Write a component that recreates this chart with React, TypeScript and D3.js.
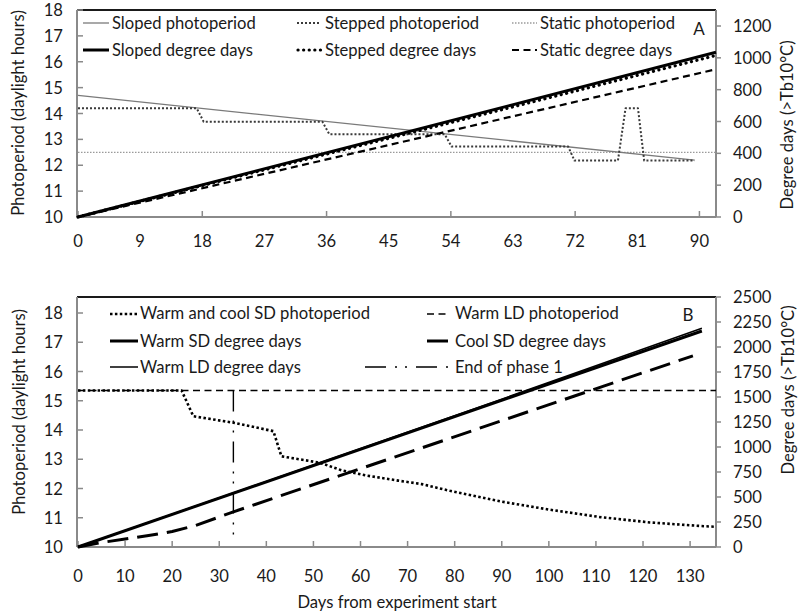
import React from 'react';
import * as d3 from 'd3';

const FONT = "Lato, 'DejaVu Sans', sans-serif";
const FS = 16.6;

// ---------------- Panel A data ----------------
const aXLabels = [0, 9, 18, 27, 36, 45, 54, 63, 72, 81, 90];
const aXTickMarks = [0, 18, 36, 54, 72, 90];
const aLeftTicks = [10, 11, 12, 13, 14, 15, 16, 17, 18];
const aRightTicks = [0, 200, 400, 600, 800, 1000, 1200];

const slopedPhotoDays = [0, 89.3];
const slopedPhotoHours = [14.7, 12.2];
const steppedPhotoDays = [0, 17.2, 18.2, 35.4, 36.4, 53.1, 54.1, 71.0, 71.9, 78.2, 79.3, 81.1, 82.0, 89.3];
const steppedPhotoHours = [14.2, 14.2, 13.68, 13.68, 13.2, 13.2, 12.72, 12.72, 12.18, 12.18, 14.2, 14.2, 12.18, 12.18];
const staticPhotoDays = [0, 92.4];
const staticPhotoHours = [12.5, 12.5];
const slopedDDDays = [0, 92.4];
const slopedDD = [0, 1035];
const steppedDDDays = [0, 92.4];
const steppedDD = [0, 1015];
const staticDDDays = [0, 92.4];
const staticDD = [0, 928];

// ---------------- Panel B data ----------------
const bXLabels = [0, 10, 20, 30, 40, 50, 60, 70, 80, 90, 100, 110, 120, 130];
const bLeftTicks = [10, 11, 12, 13, 14, 15, 16, 17, 18];
const bRightTicks = [0, 250, 500, 750, 1000, 1250, 1500, 1750, 2000, 2250, 2500];

const sdPhotoDays = [0, 22, 24.5, 33, 41.5, 43.2, 47, 51.4, 56, 61, 68, 73, 79, 90, 100, 111, 121.5, 132, 135.5];
const sdPhotoHours = [15.35, 15.35, 14.47, 14.25, 13.96, 13.1, 13.0, 12.88, 12.62, 12.45, 12.27, 12.15, 11.92, 11.55, 11.28, 11.02, 10.84, 10.72, 10.69];
const ldPhotoDays = [0, 135.5];
const ldPhotoHours = [15.35, 15.35];
const warmSDDays = [0, 132.5];
const warmSDDD = [0, 2160];
const warmLDDays = [0, 80, 132.5];
const warmLDDD = [0, 1312, 2188];
const coolSDDays = [0, 5, 10, 15, 20, 25, 30, 33, 130.6];
const coolSDDD = [0, 45, 80, 115, 155, 215, 300, 352, 1912];
const endPhaseDays = [33, 33];
const endPhaseHours = [15.35, 10.2];

type Style = { stroke: string; width: number; dash?: string; cap?: string };

const stSlopedPhoto: Style = { stroke: '#7a7a7a', width: 1.3 };
const stSteppedPhoto: Style = { stroke: '#3a3a3a', width: 2, dash: '2 2' };
const stStaticPhoto: Style = { stroke: '#9a9a9a', width: 1.3, dash: '1.5 1.5' };
const stSlopedDD: Style = { stroke: '#000', width: 3 };
const stSteppedDD: Style = { stroke: '#000', width: 3.2, dash: '0.1 5.5', cap: 'round' };
const stStaticDD: Style = { stroke: '#000', width: 2.2, dash: '7 4.5' };

const stSdPhoto: Style = { stroke: '#000', width: 2.6, dash: '2.5 2.4' };
const stLdPhoto: Style = { stroke: '#000', width: 1.5, dash: '7 4.5' };
const stWarmSD: Style = { stroke: '#000', width: 3 };
const stWarmLD: Style = { stroke: '#000', width: 1.5 };
const stCoolSD: Style = { stroke: '#000', width: 3, dash: '21 9' };
const stEndPhase: Style = { stroke: '#000', width: 1.4, dash: '21 9 2 8 2 9' };

const AXIS = '#8a8a8a';

function pairs(days: number[], vals: number[]): [number, number][] {
  return days.map((d, i) => [d, vals[i]] as [number, number]);
}

function Path({ d, s }: { d: string | null; s: Style }) {
  return (
    <path
      d={d || ''}
      fill="none"
      stroke={s.stroke}
      strokeWidth={s.width}
      strokeDasharray={s.dash}
      strokeLinecap={(s.cap as any) || 'butt'}
      strokeLinejoin="round"
    />
  );
}

function LegendItem({ x1, x2, y, tx, ty, s, label }: any) {
  return (
    <g>
      <line x1={x1} x2={x2} y1={y} y2={y} stroke={s.stroke} strokeWidth={s.width} strokeDasharray={s.dash} strokeLinecap={s.cap || 'butt'} />
      <text x={tx} y={ty} fontSize={FS} fontFamily={FONT} fill="#1a1a1a">{label}</text>
    </g>
  );
}

function Frame({ left, right, top, bottom, x, yL, yR, xLabels, xTicks, leftTicks, rightTicks, labelY }: any) {
  return (
    <g>
      <line x1={left} x2={right} y1={top} y2={top} stroke="#1a1a1a" strokeWidth={2} />
      <line x1={left} x2={left} y1={top} y2={bottom} stroke={AXIS} strokeWidth={2} />
      <line x1={right} x2={right} y1={top} y2={bottom} stroke={AXIS} strokeWidth={2} />
      <line x1={left} x2={right} y1={bottom} y2={bottom} stroke={AXIS} strokeWidth={2} />
      {leftTicks.map((t: number) => (
        <g key={'l' + t}>
          <line x1={left} x2={left + 6} y1={yL(t)} y2={yL(t)} stroke={AXIS} strokeWidth={1.5} />
          <text x={63} y={yL(t)} textAnchor="end" dominantBaseline="central" fontSize={FS} fontFamily={FONT} fill="#1a1a1a">{t}</text>
        </g>
      ))}
      {rightTicks.map((t: number) => (
        <g key={'r' + t}>
          <line x1={right} x2={right + 5} y1={yR(t)} y2={yR(t)} stroke={AXIS} strokeWidth={1.5} />
          <text x={733} y={yR(t)} textAnchor="start" dominantBaseline="central" fontSize={FS} fontFamily={FONT} fill="#1a1a1a">{t}</text>
        </g>
      ))}
      {xTicks.map((t: number) => (
        <line key={'xt' + t} x1={x(t)} x2={x(t)} y1={bottom} y2={bottom - 6} stroke={AXIS} strokeWidth={1.5} />
      ))}
      {xLabels.map((t: number) => (
        <text key={'xl' + t} x={x(t)} y={labelY} textAnchor="middle" fontSize={FS} fontFamily={FONT} fill="#1a1a1a">{t}</text>
      ))}
    </g>
  );
}

export default function App() {
  const left = 77, right = 716;
  // Panel A scales
  const aTop = 10, aBottom = 217;
  const xA = d3.scaleLinear().domain([0, 92.4]).range([78, right]);
  const yAL = d3.scaleLinear().domain([10, 18]).range([aBottom, 10]);
  const yAR = d3.scaleLinear().domain([0, 1200]).range([aBottom, 26]);
  const lineAL = d3.line<[number, number]>().x(d => xA(d[0])).y(d => yAL(d[1]));
  const lineAR = d3.line<[number, number]>().x(d => xA(d[0])).y(d => yAR(d[1]));

  // Panel B scales
  const bTop = 297, bBottom = 547;
  const xB = d3.scaleLinear().domain([0, 135.5]).range([78, right]);
  const yBL = d3.scaleLinear().domain([10, 18]).range([bBottom, 313]);
  const yBR = d3.scaleLinear().domain([0, 2500]).range([bBottom, bTop]);
  const lineBL = d3.line<[number, number]>().x(d => xB(d[0])).y(d => yBL(d[1]));
  const lineBR = d3.line<[number, number]>().x(d => xB(d[0])).y(d => yBR(d[1]));

  return (
    <svg width={800} height={615} style={{ position: 'absolute', left: 0, top: 0, background: '#fff' }}>
      <rect x={0} y={0} width={800} height={615} fill="#fff" />
      {/* ---------- Panel A ---------- */}
      <Frame left={left} right={right} top={aTop} bottom={aBottom} x={xA} yL={yAL} yR={yAR}
        xLabels={aXLabels} xTicks={aXTickMarks} leftTicks={aLeftTicks} rightTicks={aRightTicks} labelY={247} />
      <Path d={lineAL(pairs(staticPhotoDays, staticPhotoHours))} s={stStaticPhoto} />
      <Path d={lineAL(pairs(slopedPhotoDays, slopedPhotoHours))} s={stSlopedPhoto} />
      <Path d={lineAL(pairs(steppedPhotoDays, steppedPhotoHours))} s={stSteppedPhoto} />
      <Path d={lineAR(pairs(staticDDDays, staticDD))} s={stStaticDD} />
      <Path d={lineAR(pairs(steppedDDDays, steppedDD))} s={stSteppedDD} />
      <Path d={lineAR(pairs(slopedDDDays, slopedDD))} s={stSlopedDD} />

      <LegendItem x1={83} x2={109} y={23} tx={112} ty={29} s={stSlopedPhoto} label="Sloped photoperiod" />
      <LegendItem x1={297} x2={321} y={23} tx={325} ty={29} s={stSteppedPhoto} label="Stepped photoperiod" />
      <LegendItem x1={512} x2={537} y={23} tx={540} ty={29} s={stStaticPhoto} label="Static photoperiod" />
      <LegendItem x1={83} x2={109} y={50} tx={112} ty={56} s={stSlopedDD} label="Sloped degree days" />
      <LegendItem x1={298} x2={321} y={50} tx={325} ty={56} s={stSteppedDD} label="Stepped degree days" />
      <LegendItem x1={512} x2={537} y={50} tx={540} ty={56} s={stStaticDD} label="Static degree days" />
      <text x={699} y={35} textAnchor="middle" fontSize={17} fontFamily={FONT} fill="#1a1a1a">A</text>

      <text transform="translate(18,113) rotate(-90)" textAnchor="middle" dominantBaseline="central" fontSize={FS} fontFamily={FONT} fill="#1a1a1a">Photoperiod (daylight hours)</text>
      <text transform="translate(787,125) rotate(-90)" textAnchor="middle" dominantBaseline="central" fontSize={FS} fontFamily={FONT} fill="#1a1a1a">Degree days (&gt;Tb10°C)</text>

      {/* ---------- Panel B ---------- */}
      <Frame left={left} right={right} top={bTop} bottom={bBottom} x={xB} yL={yBL} yR={yBR}
        xLabels={bXLabels} xTicks={bXLabels} leftTicks={bLeftTicks} rightTicks={bRightTicks} labelY={582} />
      <Path d={lineBL(pairs(ldPhotoDays, ldPhotoHours))} s={stLdPhoto} />
      <Path d={lineBL(pairs(sdPhotoDays, sdPhotoHours))} s={stSdPhoto} />
      <Path d={lineBR(pairs(coolSDDays, coolSDDD))} s={stCoolSD} />
      <Path d={lineBR(pairs(warmLDDays, warmLDDD))} s={stWarmLD} />
      <Path d={lineBR(pairs(warmSDDays, warmSDDD))} s={stWarmSD} />
      <Path d={lineBL(pairs(endPhaseDays, endPhaseHours))} s={stEndPhase} />

      <LegendItem x1={110} x2={138} y={314} tx={140} ty={319} s={stSdPhoto} label="Warm and cool SD photoperiod" />
      <LegendItem x1={427} x2={449} y={314} tx={455} ty={319} s={stLdPhoto} label="Warm LD photoperiod" />
      <LegendItem x1={110} x2={138} y={341} tx={140} ty={347} s={stWarmSD} label="Warm SD degree days" />
      <LegendItem x1={427} x2={448} y={341} tx={455} ty={347} s={stCoolSD} label="Cool SD degree days" />
      <LegendItem x1={110} x2={138} y={367} tx={140} ty={373} s={stWarmLD} label="Warm LD degree days" />
      <LegendItem x1={365} x2={449} y={367} tx={455} ty={373} s={stEndPhase} label="End of phase 1" />
      <text x={688} y={321} textAnchor="middle" fontSize={17} fontFamily={FONT} fill="#1a1a1a">B</text>

      <text transform="translate(19,412) rotate(-90)" textAnchor="middle" dominantBaseline="central" fontSize={FS} fontFamily={FONT} fill="#1a1a1a">Photoperiod (daylight hours)</text>
      <text transform="translate(788,390) rotate(-90)" textAnchor="middle" dominantBaseline="central" fontSize={FS} fontFamily={FONT} fill="#1a1a1a">Degree days (&gt;Tb10°C)</text>

      <text x={397} y={608} textAnchor="middle" fontSize={FS} fontFamily={FONT} fill="#1a1a1a">Days from experiment start</text>
    </svg>
  );
}
